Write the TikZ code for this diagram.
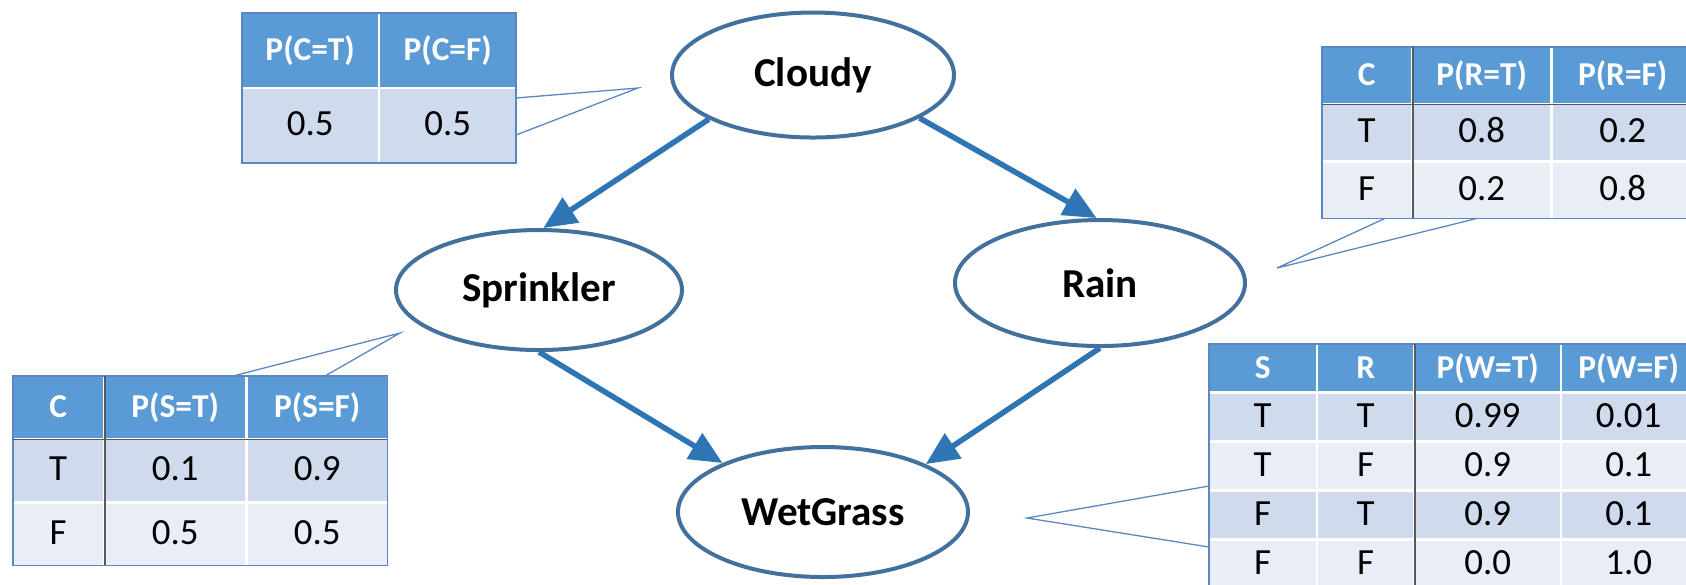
\documentclass[tikz,border=0pt]{standalone}
\usepackage{fontspec}
\setmainfont{Carlito}
\usepackage{xcolor}
\usetikzlibrary{matrix,calc,shapes.geometric,arrows.meta}

\definecolor{hdrblue}{HTML}{5B9BD5}
\definecolor{bandA}{HTML}{CFDAEC}
\definecolor{bandB}{HTML}{E9EEF6}
\definecolor{ringblue}{HTML}{41719C}
\definecolor{arrowblue}{HTML}{2E75B6}
\definecolor{edgeblue}{HTML}{5B87C0}

\begin{document}
\begin{tikzpicture}[x=0.1mm, y=-0.1mm,
    var/.style={ellipse, draw=ringblue, line width=0.4mm, inner sep=0pt,
      font=\fontsize{11.7}{14}\selectfont\bfseries},
    link/.style={draw=arrowblue, line width=0.55mm, -{Triangle[length=3.3mm,width=2.9mm]}},
    cpt/.style={matrix of nodes, inner sep=0pt, anchor=north west,
      row sep=0.25mm, column sep=0.25mm,
      nodes={inner sep=0pt, text height=1.55ex, text depth=0.35ex, fill=bandA,
        font=\fontsize{10.5}{12}\selectfont},
      row 1/.style={nodes={fill=hdrblue, text=white, font=\fontsize{9.5}{11}\selectfont\bfseries}}},
    lighter/.style={nodes={fill=bandB}},
    frame/.style={draw=edgeblue, line width=0.15mm},
    rule/.style={draw=black!65, line width=0.2mm},
    callout/.style={draw=edgeblue, line width=0.13mm}]
  \useasboundingbox (0,0) rectangle (1686,584);

  % the network
  \node[var, minimum width=28.2mm, minimum height=12.5mm] (cloudy) at (813,75) {Cloudy};
  \node[var, minimum width=28.6mm, minimum height=12mm] (sprinkler) at (539,290) {Sprinkler};
  \node[var, minimum width=29mm, minimum height=12.6mm] (rain) at (1100,283) {Rain};
  \node[var, minimum width=29mm, minimum height=13mm] (wetgrass) at (823,512) {WetGrass};

  \draw[link] (cloudy.203) -- (sprinkler.86);
  \draw[link] (cloudy.338) -- (rain.93);
  \draw[link] (sprinkler.270) -- (wetgrass.154);
  \draw[link] (rain.270) -- (wetgrass.25);

  % P(C)
  \matrix[cpt, nodes={minimum height=7.3mm}, column 1/.style={nodes={minimum width=13.5mm}},
    column 2/.style={nodes={minimum width=13.5mm}}] (tc) at (242,13) {
    P(C=T) & P(C=F) \\
    0.5 & 0.5 \\
  };
  \draw[frame] (tc.north west) rectangle (tc.south east);
  \coordinate (ctip) at (638,88);
  \coordinate (cbase1) at ($(tc.north east)+(0,85)$);
  \coordinate (cbase2) at ($(tc.north east)+(0,122)$);
  \draw[callout] (cbase1) -- (ctip) -- (cbase2);

  % P(R|C)
  \matrix[cpt, nodes={minimum height=5.5mm}, row 3/.style={lighter},
    column 1/.style={nodes={minimum width=8.8mm}},
    column 2/.style={nodes={minimum width=13.7mm}},
    column 3/.style={nodes={minimum width=14mm}}] (tr) at (1322,47) {
    C & P(R=T) & P(R=F) \\
    T & 0.8 & 0.2 \\
    F & 0.2 & 0.8 \\
  };
  \draw[frame] (tr.north west) rectangle (tr.south east);
  \draw[rule] ($(tr-1-1.north east)+(1.25,0)$) -- ($(tr-3-1.south east)+(1.25,0)$);
  \draw[rule, line width=0.15mm] ($(tr-1-1.south west)+(0,1.25)$) -- ($(tr-1-3.south east)+(0,1.25)$);
  \coordinate (rtip) at (1277,268);
  \coordinate (rbase1) at ($(tr.south west)+(63,0)$);
  \coordinate (rbase2) at ($(tr.south west)+(155,0)$);
  \draw[callout] (rbase1) -- (rtip) -- (rbase2);

  % P(S|C)
  \matrix[cpt, nodes={minimum height=6.1mm}, row 3/.style={lighter},
    column 1/.style={nodes={minimum width=8.9mm}},
    column 2/.style={nodes={minimum width=14mm}},
    column 3/.style={nodes={minimum width=13.9mm}}] (ts) at (13,376) {
    C & P(S=T) & P(S=F) \\
    T & 0.1 & 0.9 \\
    F & 0.5 & 0.5 \\
  };
  \draw[frame] (ts.north west) rectangle (ts.south east);
  \draw[rule] ($(ts-1-1.north east)+(1.25,0)$) -- ($(ts-3-1.south east)+(1.25,0)$);
  \draw[rule, line width=0.15mm] ($(ts-1-1.south west)+(0,1.25)$) -- ($(ts-1-3.south east)+(0,1.25)$);
  \coordinate (stip) at (400,333);
  \coordinate (sbase1) at ($(ts.north west)+(220,0)$);
  \coordinate (sbase2) at ($(ts.north west)+(312,0)$);
  \draw[callout] (sbase1) -- (stip) -- (sbase2);

  % P(W|S,R)
  \matrix[cpt, nodes={minimum height=4.65mm}, row 3/.style={lighter}, row 5/.style={lighter},
    column 1/.style={nodes={minimum width=10.6mm}},
    column 2/.style={nodes={minimum width=9.5mm}},
    column 3/.style={nodes={minimum width=14.4mm}},
    column 4/.style={nodes={minimum width=13.3mm}}] (tw) at (1209,344) {
    S & R & P(W=T) & P(W=F) \\
    T & T & 0.99 & 0.01 \\
    T & F & 0.9 & 0.1 \\
    F & T & 0.9 & 0.1 \\
    F & F & 0.0 & 1.0 \\
  };
  \draw[frame] (tw.north west) rectangle (tw.south east);
  \draw[rule] ($(tw-1-2.north east)+(1.25,0)$) -- ($(tw-5-2.south east)+(1.25,0)$);
  \coordinate (wtip) at (1027,518);
  \coordinate (wbase1) at ($(tw.north west)+(0,142)$);
  \coordinate (wbase2) at ($(tw.north west)+(0,203)$);
  \draw[callout] (wbase1) -- (wtip) -- (wbase2);
\end{tikzpicture}
\end{document}
